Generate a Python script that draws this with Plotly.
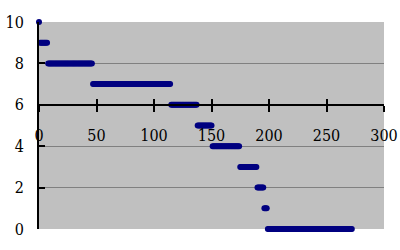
import plotly.graph_objects as go

# Data: step levels (y) and how many consecutive index points sit on each level
levels = [10, 9, 8, 7, 6, 5, 4, 3, 2, 1, 0]
counts = [1, 7, 39, 68, 23, 13, 24, 15, 6, 3, 74]
x_ticks = [0, 50, 100, 150, 200, 250, 300]
y_ticks = [0, 2, 4, 6, 8, 10]

xs, ys = [], []
i = 0
for lv, c in zip(levels, counts):
    for _ in range(c):
        xs.append(i)
        ys.append(lv)
        i += 1

font = dict(family="DejaVu Serif Condensed, DejaVu Serif", size=16, color="#000000")

fig = go.Figure()
fig.add_trace(go.Scatter(
    x=xs, y=ys, mode="markers",
    marker=dict(color="#000080", size=6, line=dict(width=0)),
    cliponaxis=False, showlegend=False, hoverinfo="skip"))
# helper trace for the upward tick axis
fig.add_trace(go.Scatter(x=[0], y=[0], xaxis="x2", mode="markers",
                         marker=dict(size=0, opacity=0), showlegend=False, hoverinfo="skip"))

fig.update_layout(
    width=400, height=250,
    margin=dict(l=39, r=16, t=22, b=21, autoexpand=False),
    paper_bgcolor="white",
    plot_bgcolor="#C0C0C0",
    font=font,
    xaxis=dict(
        range=[0, 300], tickvals=x_ticks, ticktext=[str(v) for v in x_ticks],
        anchor="free", position=0.6, side="bottom", automargin=False,
        showgrid=False, zeroline=False,
        showline=True, linecolor="black", linewidth=2,
        ticks="outside", ticklen=6, tickwidth=1.5, tickcolor="black",
        ticklabelstandoff=10,
        tickfont=font,
    ),
    xaxis2=dict(
        range=[0, 300], overlaying="x", matches="x", tickvals=x_ticks,
        anchor="free", position=0.6, side="bottom", automargin=False,
        showgrid=False, zeroline=False, showline=False,
        ticks="inside", ticklen=6, tickwidth=1.5, tickcolor="black",
        showticklabels=False,
    ),
    yaxis=dict(
        range=[0, 10], tickvals=y_ticks, ticktext=[str(v) for v in y_ticks],
        automargin=False,
        showgrid=True, gridcolor="#808080", gridwidth=1,
        zeroline=False,
        showline=True, linecolor="black", linewidth=2,
        ticks="inside", ticklen=6, tickwidth=1.5, tickcolor="black",
        ticklabelstandoff=10,
        tickfont=font,
    ),
)

fig.write_html("out.html")
